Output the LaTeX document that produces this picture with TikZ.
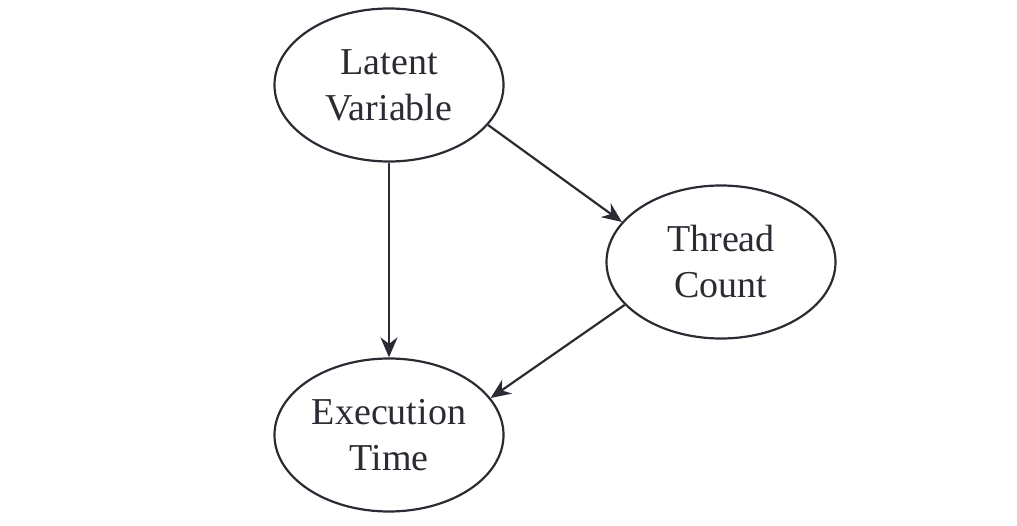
\documentclass[tikz,border=0pt]{standalone}
\usepackage{fontspec}
\setmainfont{Liberation Serif}
\usetikzlibrary{arrows.meta,shapes.geometric}
\definecolor{ink}{HTML}{2B2C33}
\begin{document}
\begin{tikzpicture}[x=1pt,y=-1pt,
  var/.style={ellipse,draw=ink,line width=2.2pt,minimum width=229pt,minimum height=153pt,inner sep=0pt,
    text=ink,align=center,font=\fontsize{38}{46}\selectfont},
  edge/.style={draw=ink,line width=2.2pt,-{Stealth[length=20pt,width=17pt]}}]
\useasboundingbox (0,0) rectangle (1017,526);
\node[var] (lv) at (389,85) {Latent\\Variable};
\node[var] (tc) at (721,262) {Thread\\Count};
\node[var] (et) at (389,435) {Execution\\Time};
\draw[edge] (lv.south) -- (et.north);
\draw[edge] (lv.-22.5) -- (tc.158);
\draw[edge] (tc.-156.6) -- (et.20);
\end{tikzpicture}
\end{document}
